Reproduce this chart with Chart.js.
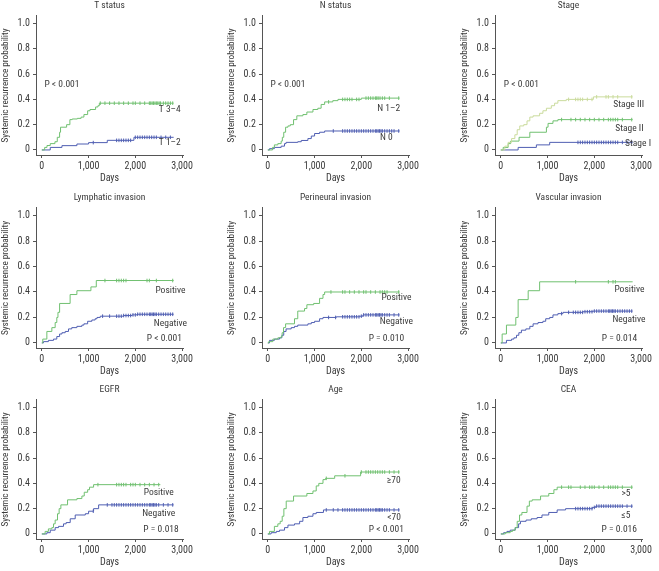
<!DOCTYPE html>
<html>
<head>
<meta charset="utf-8">
<script src="https://cdn.jsdelivr.net/npm/chart.js@4.4.0/dist/chart.umd.min.js"></script>
<style>
    body { margin: 0; background: #fff; }
    canvas { position: absolute; }
</style>
</head>
<body>
<canvas id="p0" width="200" height="185" style="left:0px;top:0px"></canvas>
<canvas id="p1" width="200" height="185" style="left:226px;top:0px"></canvas>
<canvas id="p2" width="200" height="185" style="left:459px;top:0px"></canvas>
<canvas id="p3" width="200" height="186" style="left:0px;top:192px"></canvas>
<canvas id="p4" width="200" height="186" style="left:226px;top:192px"></canvas>
<canvas id="p5" width="200" height="186" style="left:459px;top:192px"></canvas>
<canvas id="p6" width="200" height="185" style="left:0px;top:384px"></canvas>
<canvas id="p7" width="200" height="185" style="left:226px;top:384px"></canvas>
<canvas id="p8" width="200" height="185" style="left:459px;top:384px"></canvas>
<script>
// T status
const tHighDays = [0, 60, 110, 180, 280, 330, 380, 400, 530, 600, 650, 760, 840, 900, 980, 1030, 1150, 1200, 1230, 2820];
const tHighProb = [0, 0.02, 0.035, 0.05, 0.065, 0.10, 0.14, 0.18, 0.20, 0.24, 0.245, 0.25, 0.26, 0.28, 0.31, 0.32, 0.34, 0.35, 0.37, 0.37];
const tHighCensor = [1250, 1350, 1450, 1550, 1650, 1750, 1850, 1950, 2000, 2100, 2200, 2300, 2330, 2360, 2390, 2420, 2450, 2480, 2510, 2540, 2600, 2650, 2700, 2750, 2800];
const tLowDays = [0, 180, 430, 750, 1000, 1400, 1970, 2820];
const tLowProb = [0, 0.02, 0.034, 0.047, 0.058, 0.076, 0.10, 0.10];
const tLowCensor = [1100, 1600, 1650, 1700, 1750, 1800, 1850, 1900, 2000, 2050, 2100, 2150, 2200, 2250, 2300, 2350, 2400, 2450, 2550, 2650, 2750];

// N status
const nHighDays = [0, 100, 140, 214, 285, 310, 340, 380, 430, 480, 550, 620, 750, 835, 965, 1070, 1140, 1215, 1390, 1500, 2000, 2820];
const nHighProb = [0, 0.02, 0.04, 0.05, 0.07, 0.10, 0.14, 0.18, 0.19, 0.20, 0.24, 0.27, 0.28, 0.30, 0.32, 0.33, 0.36, 0.38, 0.39, 0.40, 0.41, 0.41];
const nHighCensor = [1300, 1600, 1650, 1700, 1750, 1800, 1900, 1950, 2100, 2150, 2200, 2250, 2300, 2330, 2360, 2400, 2450, 2500, 2600, 2800];
const nLowDays = [0, 35, 140, 285, 357, 390, 640, 715, 857, 930, 1000, 1107, 1215, 2820];
const nLowProb = [0, 0.01, 0.02, 0.03, 0.05, 0.06, 0.065, 0.075, 0.09, 0.11, 0.13, 0.14, 0.15, 0.15];
const nLowCensor = [1400, 1600, 1650, 1700, 1750, 1800, 1850, 1900, 1950, 2000, 2050, 2100, 2150, 2200, 2250, 2300, 2330, 2360, 2390, 2420, 2450, 2500, 2550, 2600, 2650, 2700, 2800];

// Stage
const s3Days = [0, 85, 156, 230, 300, 350, 405, 490, 560, 620, 690, 830, 900, 975, 1080, 1150, 1220, 1400, 1980, 2820];
const s3Prob = [0, 0.03, 0.06, 0.09, 0.12, 0.16, 0.19, 0.20, 0.23, 0.26, 0.27, 0.29, 0.31, 0.33, 0.35, 0.37, 0.39, 0.40, 0.42, 0.42];
const s3Censor = [1450, 1600, 1650, 1700, 1750, 1850, 1950, 2050, 2250, 2300, 2400, 2500, 2800];
const s2Days = [0, 50, 156, 210, 390, 620, 975, 1010, 1115, 1220, 2820];
const s2Prob = [0, 0.02, 0.05, 0.07, 0.10, 0.14, 0.18, 0.21, 0.23, 0.24, 0.24];
const s2Censor = [1300, 1500, 1600, 1700, 1800, 1900, 2000, 2100, 2200, 2300, 2350, 2400, 2450, 2500, 2600, 2800];
const s1Days = [0, 370, 760, 1045, 2820];
const s1Prob = [0, 0.02, 0.04, 0.06, 0.06];
const s1Censor = [1650, 1700, 1750, 1800, 1850, 1900, 1950, 2000, 2050, 2100, 2150, 2200, 2250, 2300, 2350, 2400, 2450, 2500, 2600, 2700, 2800];

// Lymphatic invasion
const lPosDays = [0, 20, 107, 214, 285, 320, 345, 380, 605, 750, 1050, 1165, 2820];
const lPosProb = [0, 0.03, 0.09, 0.12, 0.16, 0.20, 0.24, 0.31, 0.38, 0.41, 0.44, 0.49, 0.49];
const lPosCensor = [1350, 1600, 1650, 1700, 1750, 1800, 2250, 2300, 2450, 2800];
const lNegDays = [0, 35, 140, 250, 320, 380, 430, 500, 570, 640, 750, 857, 900, 980, 1070, 1140, 1180, 1250, 1750, 1930, 2035, 2820];
const lNegProb = [0, 0.01, 0.02, 0.03, 0.05, 0.07, 0.08, 0.09, 0.11, 0.12, 0.13, 0.14, 0.15, 0.17, 0.18, 0.19, 0.20, 0.21, 0.215, 0.22, 0.225, 0.225];
const lNegCensor = [1300, 1450, 1600, 1650, 1700, 1750, 1800, 1850, 1900, 1950, 2000, 2050, 2100, 2150, 2200, 2250, 2300, 2330, 2360, 2390, 2420, 2450, 2500, 2550, 2600, 2650, 2700, 2750, 2800];

// Perineural invasion
const pPosDays = [0, 20, 107, 214, 285, 305, 335, 380, 570, 640, 785, 835, 980, 1107, 1180, 1215, 2820];
const pPosProb = [0, 0.01, 0.03, 0.04, 0.05, 0.08, 0.12, 0.15, 0.19, 0.25, 0.27, 0.30, 0.31, 0.35, 0.38, 0.40, 0.40];
const pPosCensor = [1350, 1600, 1650, 1750, 1850, 1950, 2050, 2100, 2200, 2300, 2400, 2450, 2500, 2550, 2800];
const pNegDays = [0, 35, 140, 250, 300, 340, 390, 500, 570, 640, 857, 930, 1000, 1107, 1180, 1465, 1965, 2035, 2820];
const pNegProb = [0, 0.02, 0.03, 0.04, 0.06, 0.09, 0.11, 0.12, 0.13, 0.14, 0.15, 0.16, 0.17, 0.19, 0.20, 0.205, 0.21, 0.22, 0.22];
const pNegCensor = [1300, 1450, 1600, 1650, 1700, 1750, 1800, 1850, 1900, 1950, 2000, 2050, 2100, 2150, 2200, 2250, 2300, 2330, 2360, 2390, 2420, 2450, 2500, 2550, 2600, 2700, 2800];

// Vascular invasion
const vPosDays = [0, 28, 120, 320, 370, 585, 830, 2820];
const vPosProb = [0, 0.07, 0.14, 0.20, 0.34, 0.41, 0.48, 0.48];
const vPosCensor = [1600, 2300, 2400, 2450];
const vNegDays = [0, 120, 230, 280, 335, 385, 440, 535, 620, 690, 795, 900, 960, 1045, 1115, 1220, 1330, 1755, 1970, 2820];
const vNegProb = [0, 0.02, 0.03, 0.04, 0.06, 0.08, 0.10, 0.11, 0.13, 0.15, 0.16, 0.17, 0.19, 0.20, 0.22, 0.23, 0.24, 0.245, 0.25, 0.25];
const vNegCensor = [1300, 1450, 1550, 1600, 1650, 1700, 1750, 1800, 1850, 1900, 1950, 2000, 2050, 2100, 2150, 2200, 2250, 2300, 2330, 2360, 2390, 2420, 2450, 2500, 2550, 2600, 2650, 2700, 2750, 2800];

// EGFR
const ePosDays = [0, 70, 140, 214, 250, 285, 335, 370, 407, 550, 750, 857, 907, 980, 1020, 1107, 2535];
const ePosProb = [0, 0.02, 0.04, 0.05, 0.08, 0.11, 0.16, 0.20, 0.23, 0.27, 0.28, 0.30, 0.33, 0.35, 0.37, 0.39, 0.39];
const ePosCensor = [1200, 1600, 1650, 1700, 1750, 1800, 1900, 1950, 2000, 2100, 2200, 2300, 2400, 2500];
const eNegDays = [0, 107, 180, 285, 357, 464, 520, 607, 714, 930, 1000, 1107, 1215, 2820];
const eNegProb = [0, 0.01, 0.03, 0.05, 0.06, 0.08, 0.09, 0.12, 0.15, 0.16, 0.18, 0.20, 0.23, 0.23];
const eNegCensor = [1100, 1400, 1500, 1550, 1600, 1650, 1700, 1750, 1800, 1850, 1900, 1950, 2000, 2050, 2100, 2150, 2200, 2250, 2300, 2330, 2360, 2390, 2420, 2450, 2500, 2600, 2700, 2800];

// Age
const aOldDays = [0, 35, 140, 214, 264, 307, 343, 393, 550, 835, 965, 1035, 1090, 1180, 1235, 1430, 1985, 2820];
const aOldProb = [0, 0.02, 0.06, 0.08, 0.10, 0.14, 0.20, 0.26, 0.30, 0.32, 0.34, 0.38, 0.40, 0.43, 0.44, 0.46, 0.49, 0.49];
const aOldCensor = [1250, 1650, 2000, 2100, 2150, 2200, 2250, 2300, 2350, 2400, 2450, 2500, 2600, 2700, 2800];
const aYoungDays = [0, 70, 180, 250, 357, 430, 570, 680, 750, 857, 965, 1035, 1190, 2820];
const aYoungProb = [0, 0.01, 0.02, 0.03, 0.05, 0.07, 0.08, 0.10, 0.13, 0.14, 0.16, 0.17, 0.19, 0.19];
const aYoungCensor = [1250, 1400, 1500, 1600, 1650, 1700, 1750, 1800, 1850, 1900, 1950, 2000, 2050, 2100, 2150, 2200, 2250, 2300, 2330, 2360, 2390, 2420, 2450, 2500, 2550, 2600, 2700, 2800];

// CEA
const cHighDays = [0, 95, 200, 250, 307, 350, 400, 450, 560, 610, 670, 850, 1025, 1135, 1205, 2820];
const cHighProb = [0, 0.01, 0.02, 0.03, 0.05, 0.10, 0.15, 0.17, 0.22, 0.26, 0.27, 0.30, 0.32, 0.35, 0.37, 0.37];
const cHighCensor = [1300, 1450, 1500, 1700, 1800, 1900, 1950, 2000, 2100, 2200, 2300, 2350, 2400, 2450, 2500, 2600, 2800];
const cLowDays = [0, 60, 130, 200, 307, 380, 420, 540, 650, 775, 880, 1025, 1205, 1385, 1960, 2030, 2820];
const cLowProb = [0, 0.01, 0.02, 0.03, 0.05, 0.08, 0.10, 0.11, 0.12, 0.13, 0.15, 0.17, 0.19, 0.20, 0.21, 0.22, 0.22];
const cLowCensor = [1600, 1650, 1700, 1750, 1800, 1850, 1900, 1950, 2000, 2050, 2100, 2150, 2200, 2250, 2300, 2350, 2400, 2450, 2500, 2550, 2600, 2700, 2800];

const dayTicks = [0, 500, 1000, 1500, 2000, 2500, 3000];
const probTicks = [0, 0.2, 0.4, 0.6, 0.8, 1.0];

const GREEN = '#70c070';
const BLUE = '#4f5eb2';
const PALE = '#cadb9c';
const FONT = '"Roboto Condensed", "DejaVu Sans Condensed", sans-serif';
const TEXT = '#3a3a3a';

let panels = [
    { title: 'T status', curves: [[tHighDays, tHighProb, tHighCensor, GREEN], [tLowDays, tLowProb, tLowCensor, BLUE]],
      notes: [['P < 0.001', 430, 0.52], ['T 3\u20134', 2736, 0.316], ['T 1\u20132', 2736, 0.058]] },
    { title: 'N status', curves: [[nHighDays, nHighProb, nHighCensor, GREEN], [nLowDays, nLowProb, nLowCensor, BLUE]],
      notes: [['P < 0.001', 430, 0.52], ['N 1\u20132', 2586, 0.324], ['N 0', 2536, 0.10]] },
    { title: 'Stage', curves: [[s3Days, s3Prob, s3Censor, PALE], [s2Days, s2Prob, s2Censor, GREEN], [s1Days, s1Prob, s1Censor, BLUE]],
      notes: [['P < 0.001', 440, 0.52], ['Stage III', 2736, 0.36], ['Stage II', 2750, 0.171], ['Stage I', 2935, 0.047]] },
    { title: 'Lymphatic invasion', curves: [[lPosDays, lPosProb, lPosCensor, GREEN], [lNegDays, lNegProb, lNegCensor, BLUE]],
      notes: [['Positive', 2750, 0.411], ['Negative', 2750, 0.149], ['P < 0.001', 2621, 0.031]] },
    { title: 'Perineural invasion', curves: [[pPosDays, pPosProb, pPosCensor, GREEN], [pNegDays, pNegProb, pNegCensor, BLUE]],
      notes: [['Positive', 2750, 0.353], ['Negative', 2750, 0.17], ['P = 0.010', 2536, 0.031]] },
    { title: 'Vascular invasion', curves: [[vPosDays, vPosProb, vPosCensor, GREEN], [vNegDays, vNegProb, vNegCensor, BLUE]],
      notes: [['Positive', 2750, 0.416], ['Negative', 2740, 0.183], ['P = 0.014', 2537, 0.031]] },
    { title: 'EGFR', curves: [[ePosDays, ePosProb, ePosCensor, GREEN], [eNegDays, eNegProb, eNegCensor, BLUE]],
      notes: [['Positive', 2500, 0.329], ['Negative', 2500, 0.163], ['P = 0.018', 2550, 0.032]] },
    { title: 'Age', curves: [[aOldDays, aOldProb, aOldCensor, GREEN], [aYoungDays, aYoungProb, aYoungCensor, BLUE]],
      notes: [['\u226570', 2693, 0.421], ['<70', 2700, 0.132], ['P < 0.001', 2536, 0.032]] },
    { title: 'CEA', curves: [[cHighDays, cHighProb, cHighCensor, GREEN], [cLowDays, cLowProb, cLowCensor, BLUE]],
      notes: [['>5', 2678, 0.316], ['\u22645', 2678, 0.145], ['P = 0.016', 2534, 0.032]] },
];

// value of the step curve at day t
function probAt(days, probs, t) {
    let p = 0;
    for (let i = 0; i < days.length; i++) {
        if (days[i] <= t) p = probs[i];
    }
    return p;
}

const notesPlugin = {
    id: 'notes',
    afterDatasetsDraw(chart, args, opts) {
        let ctx = chart.ctx;
        let xs = chart.scales.x, ys = chart.scales.y;
        ctx.save();
        ctx.fillStyle = TEXT;
        ctx.font = '9.5px ' + FONT;
        ctx.textAlign = 'center';
        ctx.textBaseline = 'middle';
        opts.items.forEach(function (n) {
            ctx.fillText(n[0], xs.getPixelForValue(n[1]), ys.getPixelForValue(n[2]));
        });
        ctx.restore();
    }
};

panels.forEach(function (panel, idx) {
    let datasets = [];
    panel.curves.forEach(function (c) {
        let days = c[0], probs = c[1], censor = c[2], color = c[3];
        datasets.push({
            data: days.map((d, i) => ({ x: d, y: probs[i] })),
            showLine: true,
            stepped: 'before',
            borderColor: color,
            borderWidth: 1,
            pointRadius: 0,
        });
        datasets.push({
            data: censor.map(d => ({ x: d, y: probAt(days, probs, d) })),
            showLine: false,
            pointStyle: 'line',
            rotation: 90,
            pointRadius: 1.8,
            borderColor: color,
            borderWidth: 1,
        });
    });

    new Chart(document.getElementById('p' + idx).getContext('2d'), {
        type: 'scatter',
        data: { datasets: datasets },
        plugins: [notesPlugin],
        options: {
            responsive: false,
            animation: false,
            events: [],
            layout: { padding: { left: 0, right: 17, top: 0, bottom: 0 } },
            plugins: {
                legend: { display: false },
                tooltip: { enabled: false },
                notes: { items: panel.notes },
                title: {
                    display: true,
                    text: panel.title,
                    fullSize: false,
                    color: TEXT,
                    font: { family: FONT, size: 9.5, weight: 'normal', lineHeight: 1.26 },
                    padding: { top: 0, bottom: 4 },
                },
            },
            scales: {
                x: {
                    type: 'linear',
                    min: -125,
                    max: 3020,
                    afterFit: s => { s.height = 30; },
                    afterBuildTicks: s => { s.ticks = dayTicks.map(v => ({ value: v })); },
                    ticks: {
                        color: TEXT,
                        padding: 2,
                        maxRotation: 0,
                        font: { family: FONT, size: 10 },
                        callback: v => v.toLocaleString('en-US'),
                    },
                    grid: { drawOnChartArea: false, drawTicks: true, tickLength: 3, color: '#555' },
                    border: { color: '#555' },
                    title: { display: true, text: 'Days', color: TEXT, font: { family: FONT, size: 10, weight: 'normal' }, padding: { top: 0, bottom: 1 } },
                },
                y: {
                    min: -0.04,
                    max: 1.06,
                    afterFit: s => { s.width = 36; },
                    afterBuildTicks: s => { s.ticks = probTicks.map(v => ({ value: v })); },
                    ticks: {
                        color: TEXT,
                        padding: 3,
                        font: { family: FONT, size: 10 },
                        callback: v => (v === 0 ? '0' : v.toFixed(1)),
                    },
                    grid: { drawOnChartArea: false, drawTicks: true, tickLength: 3, color: '#555' },
                    border: { color: '#555' },
                    title: { display: true, text: 'Systemic recurrence probability', color: TEXT, font: { family: FONT, size: 9.2, weight: 'normal' }, padding: 0 },
                },
            },
        },
    });
});
</script>
</body>
</html>
